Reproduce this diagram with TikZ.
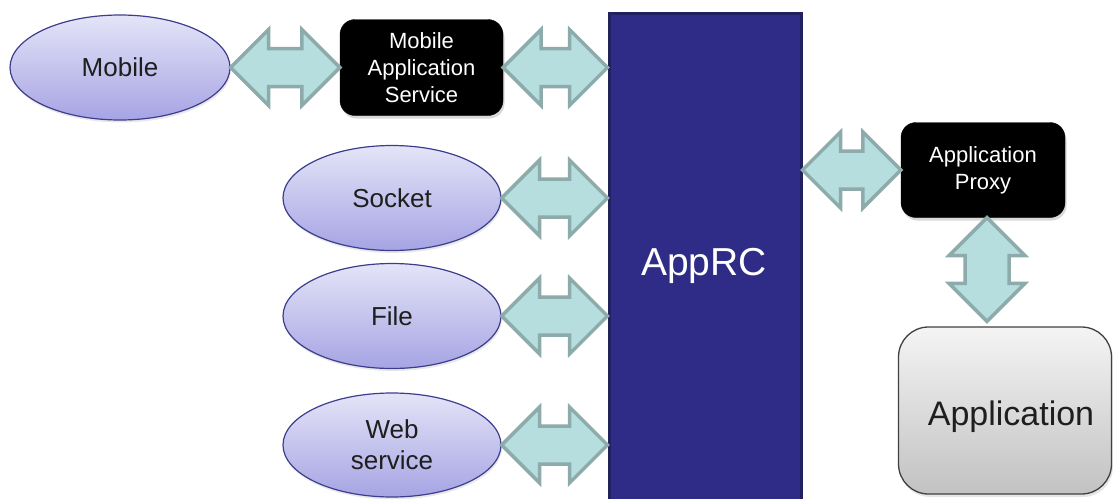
\documentclass[tikz,border=0pt]{standalone}
\usepackage{fontspec}
\setmainfont{Liberation Sans}
\usetikzlibrary{calc,shapes.geometric,shadows}

\definecolor{arrowfill}{HTML}{B6DEDE}
\definecolor{arrowline}{HTML}{8DABAB}
\definecolor{elltop}{HTML}{E4E4F8}
\definecolor{ellbot}{HTML}{A6A4E3}
\definecolor{ellline}{HTML}{3D3D8F}
\definecolor{corefill}{HTML}{2E2C87}
\definecolor{coreline}{HTML}{22215F}
\definecolor{apptop}{HTML}{F4F4F4}
\definecolor{appbot}{HTML}{C2C2C2}
\definecolor{apptext}{HTML}{1E1E1E}

\tikzset{
  source/.style={ellipse, draw=ellline, line width=1.2pt,
    top color=elltop, bottom color=ellbot,
    minimum width=218pt, minimum height=105pt, inner sep=0pt,
    font=\fontsize{26}{31}\selectfont, text=apptext, align=center,
    drop shadow={shadow xshift=1pt, shadow yshift=-2.5pt, opacity=0.18}},
  service/.style={rectangle, rounded corners=15pt, fill=black, draw=black,
    minimum width=163pt, minimum height=96pt, inner sep=0pt,
    text=white, font=\fontsize{22}{27}\selectfont, align=center,
    drop shadow={shadow xshift=1.5pt, shadow yshift=-3pt, opacity=0.3}},
  core/.style={rectangle, fill=corefill, draw=coreline, line width=3pt,
    minimum width=192pt, minimum height=504pt, inner sep=0pt},
  appbox/.style={rectangle, rounded corners=30pt, draw=black!75, line width=1.3pt,
    top color=apptop, bottom color=appbot,
    minimum width=213pt, minimum height=167pt, inner sep=0pt,
    drop shadow={shadow xshift=1.5pt, shadow yshift=-3pt, opacity=0.2}},
  blockarrow/.style={draw=arrowline, fill=arrowfill, line width=3.5pt, line join=miter}
}

% Horizontal double block arrow between two points (same height as the first one)
\newcommand\hblock[2]{%
  \draw[blockarrow] let \p1=(#1), \p2=(#2) in
    (\x1,\y1) -- (\x1+38pt,\y1+38pt) -- (\x1+38pt,\y1+19pt)
    -- (\x2-38pt,\y1+19pt) -- (\x2-38pt,\y1+38pt) -- (\x2,\y1)
    -- (\x2-38pt,\y1-38pt) -- (\x2-38pt,\y1-19pt)
    -- (\x1+38pt,\y1-19pt) -- (\x1+38pt,\y1-38pt) -- cycle;}

% Vertical double block arrow, from the upper point down to the lower one
\newcommand\vblock[2]{%
  \draw[blockarrow] let \p1=(#1), \p2=(#2) in
    (\x1,\y1) -- (\x1+38pt,\y1-38pt) -- (\x1+22pt,\y1-38pt)
    -- (\x1+22pt,\y2+38pt) -- (\x1+38pt,\y2+38pt) -- (\x1,\y2)
    -- (\x1-38pt,\y2+38pt) -- (\x1-22pt,\y2+38pt)
    -- (\x1-22pt,\y1-38pt) -- (\x1-38pt,\y1-38pt) -- cycle;}

\begin{document}
\begin{tikzpicture}[x=1pt, y=-1pt]
  \useasboundingbox (0,0) rectangle (1113,498);

  % central component
  \node[core] (apprc) at (705,265) {};
  \node[anchor=base, text=white, font=\fontsize{39}{44}\selectfont] (apprclabel) at (704,275) {AppRC};

  % input sources
  \node[source, minimum width=220pt] (mobile) at (120,67.5) {Mobile};
  \node[source] (socket) at (392,198) {Socket};
  \node[source] (file) at (392,316) {File};
  \node[source, minimum height=104pt] (web) at (392,445) {Web\\service};

  % services
  \node[service] (mas) at (421.5,67.5) {Mobile\\Application\\Service};
  \node[service, minimum width=164pt, minimum height=95pt] (proxy) at (983,170) {Application\\Proxy};

  % target application
  \node[appbox] (app) at (1005,410.5) {};
  \node[anchor=base, text=apptext, font=\fontsize{34}{40}\selectfont] (applabel) at (1011,425) {Application};

  % connections
  \hblock{mobile.east}{mobile.east -| mas.west}
  \hblock{mas.east}{mas.east -| apprc.west}
  \hblock{socket.east}{socket.east -| apprc.west}
  \hblock{file.east}{file.east -| apprc.west}
  \hblock{web.east}{web.east -| apprc.west}
  \hblock{apprc.east |- proxy.west}{proxy.west}
  \vblock{[xshift=4pt]proxy.south}{[xshift=4pt,yshift=5pt]proxy.south |- app.north}
\end{tikzpicture}
\end{document}
